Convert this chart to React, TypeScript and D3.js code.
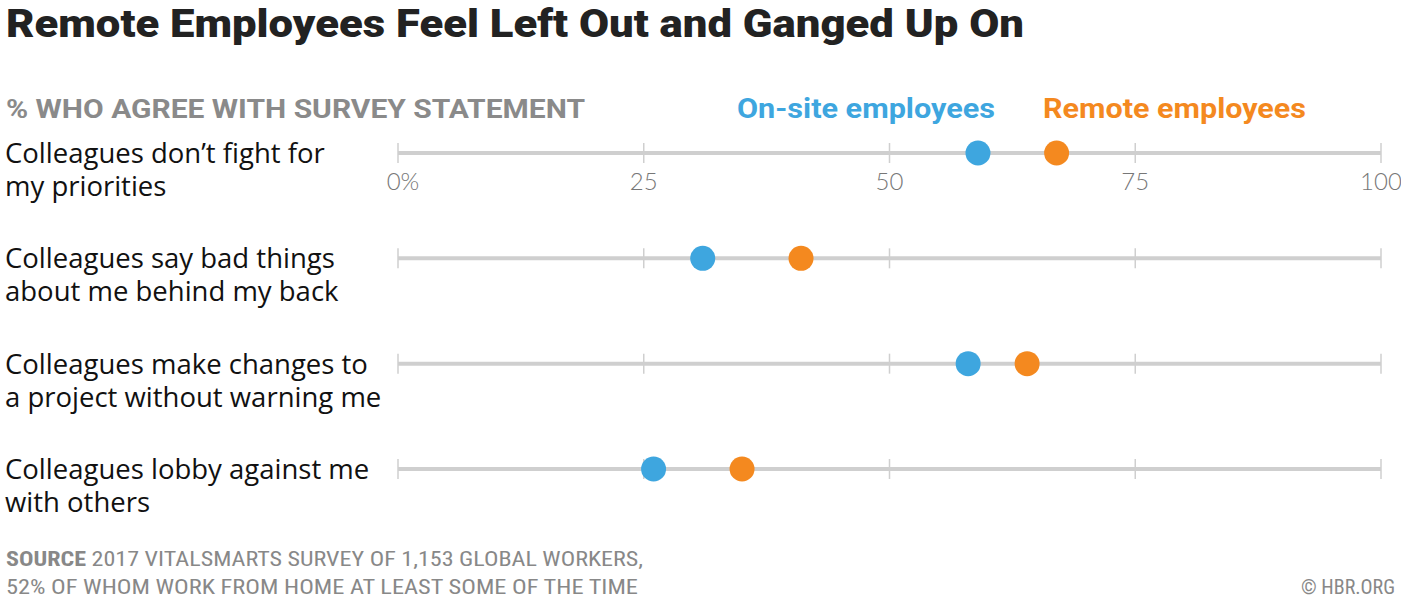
import * as d3 from "d3"

const categories = [
  ["Colleagues don’t fight for", "my priorities"],
  ["Colleagues say bad things", "about me behind my back"],
  ["Colleagues make changes to", "a project without warning me"],
  ["Colleagues lobby against me", "with others"],
]
const onSite = [59, 31, 58, 26]
const remote = [67, 41, 64, 35]
const ticks = [0, 25, 50, 75, 100]

const C = { blue: "#3ea6df", orange: "#f4891f", line: "#cfcfcf", grey: "#888", text: "#111" }
const W = 1401, H = 602

export default function App() {
  const x = d3.scaleLinear().domain([0, 100]).range([398, 1381])
  const y = d3.scalePoint<number>().domain(d3.range(categories.length)).range([153, 469])
  const sans = "'Open Sans', Lato, sans-serif"
  return (
    <svg width={W} height={H} style={{ position: "absolute", left: 0, top: 0, display: "block", background: "#fff" }}>
      <text x={6} y={37} fontFamily="Roboto, sans-serif" fontWeight={900} fontSize={38} fill="#222"
        textLength={1018} lengthAdjust="spacingAndGlyphs">Remote Employees Feel Left Out and Ganged Up On</text>

      <text x={6} y={118} fontFamily="Roboto, sans-serif" fontWeight={700} fontSize={26} fill="#8a8a8a"
        textLength={579} lengthAdjust="spacingAndGlyphs">% WHO AGREE WITH SURVEY STATEMENT</text>
      <text x={737} y={118} fontFamily="Roboto, sans-serif" fontWeight={700} fontSize={27} fill={C.blue}
        textLength={258} lengthAdjust="spacingAndGlyphs">On-site employees</text>
      <text x={1043} y={118} fontFamily="Roboto, sans-serif" fontWeight={700} fontSize={27} fill={C.orange}
        textLength={263} lengthAdjust="spacingAndGlyphs">Remote employees</text>

      {categories.map((lines, i) => {
        const cy = y(i)!
        return (
          <g key={i}>
            <text x={5} y={cy + 10} fontFamily={sans} fontSize={27.5} fill={C.text}>
              {lines.map((l, j) => (
                <tspan key={j} x={5} dy={j === 0 ? 0 : 33}>{l}</tspan>
              ))}
            </text>
            <line x1={x(0)} x2={x(100)} y1={cy} y2={cy} stroke={C.line} strokeWidth={4} />
            {ticks.map(t => (
              <line key={t} x1={x(t)} x2={x(t)} y1={cy - 10} y2={cy + 10} stroke={C.line} strokeWidth={1.5} />
            ))}
            <circle cx={x(onSite[i])} cy={cy} r={12.5} fill={C.blue} />
            <circle cx={x(remote[i])} cy={cy} r={12.5} fill={C.orange} />
          </g>
        )
      })}

      {ticks.map(t => (
        <text key={t} x={x(t) + (t === 0 ? 5 : 0)} y={190} textAnchor="middle" fontFamily="Lato, sans-serif" fontWeight={300}
          fontSize={24} fill="#777">{t === 0 ? "0%" : t}</text>
      ))}

      <g fontFamily="'Roboto Condensed', 'Liberation Sans Narrow', Roboto, sans-serif" fontSize={20} fill="#888">
        <text x={6} y={566} textLength={637} lengthAdjust="spacingAndGlyphs">
          <tspan fontWeight={700}>SOURCE</tspan><tspan>{"  2017 VITALSMARTS SURVEY OF 1,153 GLOBAL WORKERS,"}</tspan>
        </text>
        <text x={6} y={594} textLength={632} lengthAdjust="spacingAndGlyphs">52% OF WHOM WORK FROM HOME AT LEAST SOME OF THE TIME</text>
        <text x={1395} y={594} textAnchor="end">© HBR.ORG</text>
      </g>
    </svg>
  )
}
